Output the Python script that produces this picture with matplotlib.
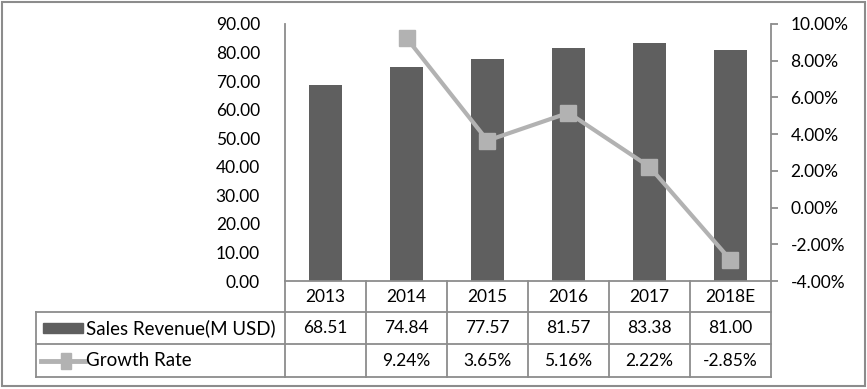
import matplotlib
matplotlib.use("Agg")
import matplotlib.pyplot as plt
from matplotlib.patches import Rectangle
from matplotlib.lines import Line2D
from matplotlib.ticker import FuncFormatter

categories = ["2013", "2014", "2015", "2016", "2017", "2018E"]
revenue = [68.51, 74.84, 77.57, 81.57, 83.38, 81.00]
growth = [None, 9.24, 3.65, 5.16, 2.22, -2.85]
rev_labels = ["68.51", "74.84", "77.57", "81.57", "83.38", "81.00"]
growth_labels = ["", "9.24%", "3.65%", "5.16%", "2.22%", "-2.85%"]
series_names = ["Sales Revenue(M USD)", "Growth Rate"]

BAR = "#5f5f5f"
LINE = "#b2b2b2"
GRID = "#8c8c8c"
FONT = "Lato"
FS = 12.5
FS_LEG = 13.5

W, H = 867, 389
plt.rcParams['font.family'] = [FONT, 'DejaVu Sans']
fig = plt.figure(figsize=(W / 100, H / 100), dpi=100)

def fx(px):
    return px / W

def fy(py):
    return 1 - py / H

# plot area in pixels
L, R, T, B = 285, 771, 24, 281
ax = fig.add_axes([fx(L), fy(B), fx(R) - fx(L), fy(T) - fy(B)])
ax2 = ax.twinx()

x = list(range(len(categories)))
ax.bar(x, revenue, width=0.4, color=BAR, zorder=2)
ax.set_xlim(-0.5, len(categories) - 0.5)
ax.set_ylim(0, 90)
ax.set_yticks(range(0, 91, 10))
ax.yaxis.set_major_formatter(FuncFormatter(lambda v, p: f"{v:.2f}"))
ax.tick_params(axis='y', length=0, pad=18, labelsize=FS, colors="black")
ax.set_xticks([])
for s in ["top", "right"]:
    ax.spines[s].set_visible(False)
ax.spines["left"].set_color(GRID)
ax.spines["left"].set_linewidth(1.3)
ax.spines["bottom"].set_color(GRID)
ax.spines["bottom"].set_linewidth(1.3)

gx = [i for i, g in enumerate(growth) if g is not None]
gy = [g for g in growth if g is not None]
ax2.plot(gx, gy, color=LINE, lw=3.0, marker="s", markersize=12,
         markerfacecolor=LINE, markeredgecolor=LINE, zorder=3)
ax2.set_ylim(-4, 10)
ax2.set_yticks(range(-4, 11, 2))
ax2.yaxis.set_major_formatter(FuncFormatter(lambda v, p: f"{v:.2f}%"))
ax2.tick_params(axis='y', length=5, width=1.3, pad=9, labelsize=FS,
                color=GRID, labelcolor="black")
for s in ["top", "left", "bottom"]:
    ax2.spines[s].set_visible(False)
ax2.spines["right"].set_color(GRID)
ax2.spines["right"].set_linewidth(1.3)
ax2.set_xticks([])

# outer border
fig.patches.append(Rectangle((fx(2), fy(386)), fx(863), fy(2) - fy(386),
                             transform=fig.transFigure, fill=False,
                             edgecolor=GRID, lw=1.5))

# table
rows_y = [281, 312, 344, 377]
tab_left = 36
col_w = (R - L) / len(categories)

def hline(y, x0, x1):
    fig.add_artist(Line2D([fx(x0), fx(x1)], [fy(y), fy(y)], color=GRID, lw=1.3,
                          transform=fig.transFigure))

def vline(xp, y0, y1):
    fig.add_artist(Line2D([fx(xp), fx(xp)], [fy(y0), fy(y1)], color=GRID, lw=1.3,
                          transform=fig.transFigure))

hline(rows_y[1], tab_left, R)
hline(rows_y[2], tab_left, R)
hline(rows_y[3], tab_left, R)
vline(tab_left, rows_y[1], rows_y[3])
for i in range(len(categories) + 1):
    vline(L + i * col_w, rows_y[0], rows_y[3])

for i, c in enumerate(categories):
    cx = L + (i + 0.5) * col_w
    fig.text(fx(cx), fy((rows_y[0] + rows_y[1]) / 2), c, ha="center", va="center", fontsize=FS)
    fig.text(fx(cx), fy((rows_y[1] + rows_y[2]) / 2), rev_labels[i], ha="center", va="center", fontsize=FS)
    fig.text(fx(cx), fy((rows_y[2] + rows_y[3]) / 2), growth_labels[i], ha="center", va="center", fontsize=FS)

# legend keys
r1c = (rows_y[1] + rows_y[2]) / 2
r2c = (rows_y[2] + rows_y[3]) / 2
fig.patches.append(Rectangle((fx(43), fy(r1c + 5)), fx(40), fy(r1c - 5) - fy(r1c + 5),
                             transform=fig.transFigure, color=BAR))
fig.add_artist(Line2D([fx(41), fx(85)], [fy(r2c), fy(r2c)], color=LINE, lw=3.5,
                      transform=fig.transFigure))
fig.patches.append(Rectangle((fx(61), fy(r2c + 8)), fx(10), fy(r2c - 8) - fy(r2c + 8),
                             transform=fig.transFigure, color=LINE))
fig.text(fx(86), fy(r1c), series_names[0], ha="left", va="center", fontsize=FS_LEG)
fig.text(fx(86), fy(r2c), series_names[1], ha="left", va="center", fontsize=FS_LEG)

fig.savefig("out.png", dpi=100)
